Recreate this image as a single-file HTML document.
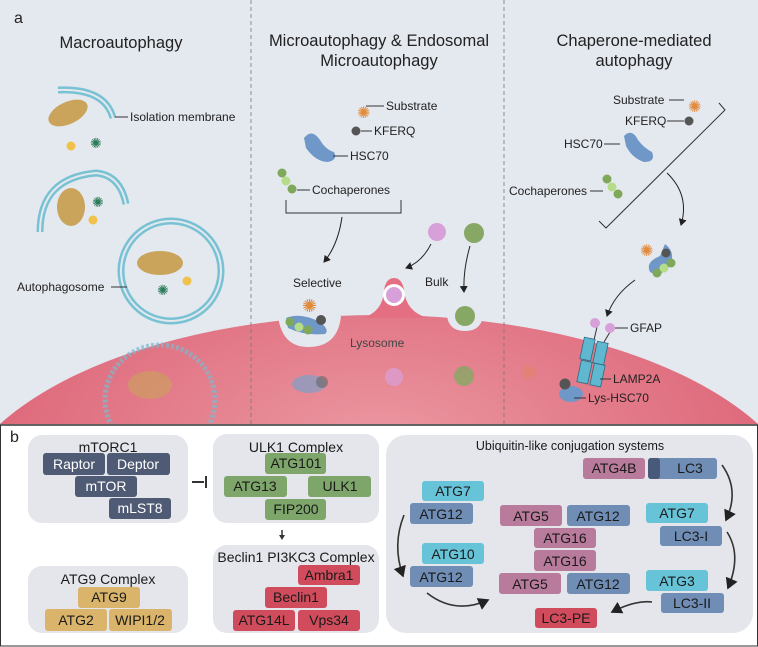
<!DOCTYPE html>
<html><head><meta charset="utf-8"><style>
html,body{margin:0;padding:0;background:#fff;overflow:hidden;width:758px;height:647px}
svg{display:block;position:absolute;left:0;top:0}
text{font-family:"Liberation Sans",sans-serif;fill:#222}
.lb{font-size:12px}
.bx{font-size:14px;text-anchor:middle;fill:#1a1a1a}
.wt{fill:#fff}
</style></head><body>
<svg width="758" height="647" viewBox="0 0 758 647" xmlns="http://www.w3.org/2000/svg">
<defs>
<radialGradient id="lys" cx="0.5" cy="0.3" r="0.7"><stop offset="0" stop-color="#eb97a1"/><stop offset="1" stop-color="#d75066"/></radialGradient>
<marker id="ah" markerWidth="8" markerHeight="8" refX="6" refY="4" orient="auto"><path d="M0,0 L7,4 L0,8 z" fill="#222"/></marker>
<clipPath id="ca"><rect x="0" y="0" width="758" height="424"/></clipPath>
</defs>
<rect x="0" y="0" width="758" height="425" fill="#e4e8ef"/>
<g clip-path="url(#ca)">
<ellipse cx="379" cy="520" rx="429" ry="205" fill="url(#lys)"/>
<circle cx="160" cy="400" r="55" fill="none" stroke="#7fb8cc" stroke-width="5" stroke-dasharray="3,2" opacity="0.7"/>
<ellipse cx="150" cy="385" rx="22" ry="14" fill="#c9a45a" opacity="0.6"/>
</g>
<line x1="251" y1="0" x2="251" y2="424" stroke="#777" stroke-dasharray="4,3" stroke-width="0.8"/>
<line x1="504" y1="0" x2="504" y2="424" stroke="#777" stroke-dasharray="4,3" stroke-width="0.8"/>
<text x="14" y="23" style="font-size:16px">a</text>
<g style="font-size:16.5px" text-anchor="middle">
<text x="121" y="48">Macroautophagy</text>
<text x="379" y="46">Microautophagy &amp;  Endosomal</text>
<text x="379" y="66">Microautophagy</text>
<text x="634" y="46">Chaperone-mediated</text>
<text x="634" y="66">autophagy</text>
</g>
<g fill="none" stroke="#78c2d4" stroke-width="7">
<path d="M58,90 Q105,88 113,118"/>
<path d="M40,232 Q40,178 96,173 Q120,175 126,204"/>
<circle cx="171" cy="271" r="50"/>
</g>
<g fill="none" stroke="#e4e8ef" stroke-width="2">
<path d="M58,90 Q105,88 113,118"/>
<path d="M40,232 Q40,178 96,173 Q120,175 126,204"/>
<circle cx="171" cy="271" r="50"/>
</g>
<ellipse cx="68" cy="113" rx="21" ry="11" fill="#c9a45a" transform="rotate(-25 68 113)"/>
<circle cx="71" cy="146" r="4.5" fill="#f0c24a"/>
<text x="90" y="148" style="font-size:14px;fill:#2e7d5a">✺</text>
<line x1="115" y1="117" x2="128" y2="117" stroke="#333"/>
<text class="lb" x="130" y="121">Isolation membrane</text>
<ellipse cx="71" cy="207" rx="14" ry="19" fill="#c9a45a"/>
<text x="92" y="207" style="font-size:14px;fill:#2e7d5a">✺</text>
<circle cx="93" cy="220" r="4.5" fill="#f0c24a"/>
<ellipse cx="160" cy="263" rx="23" ry="12" fill="#c9a45a"/>
<circle cx="187" cy="281" r="4.5" fill="#f0c24a"/>
<text x="157" y="295" style="font-size:14px;fill:#2e7d5a">✺</text>
<line x1="111" y1="287" x2="127" y2="287" stroke="#333"/>
<text class="lb" x="17" y="291">Autophagosome</text>
<text x="357" y="118" style="font-size:16px;fill:#e08a3a">✺</text>
<line x1="366" y1="106" x2="384" y2="106" stroke="#333"/>
<text class="lb" x="386" y="110">Substrate</text>
<circle cx="356" cy="131" r="4.5" fill="#555"/>
<line x1="361" y1="131" x2="372" y2="131" stroke="#333"/>
<text class="lb" x="374" y="135">KFERQ</text>
<path d="M304,138 Q312,128 320,140 Q326,150 334,152 Q338,160 328,162 Q316,162 306,148 z" fill="#6f98c8"/>
<line x1="333" y1="156" x2="348" y2="156" stroke="#333"/>
<text class="lb" x="350" y="160">HSC70</text>
<circle cx="282" cy="173" r="4.5" fill="#7fa85a"/><circle cx="286" cy="181" r="4.5" fill="#b5dc88"/><circle cx="292" cy="189" r="4.5" fill="#7fa85a"/>
<line x1="297" y1="190" x2="310" y2="190" stroke="#333"/>
<text class="lb" x="312" y="194">Cochaperones</text>
<path d="M286,200 V213 H401 V200" fill="none" stroke="#333"/>
<path d="M342,217 Q338,245 324,262" fill="none" stroke="#222" marker-end="url(#ah)"/>
<circle cx="437" cy="232" r="9" fill="#d8a0d8"/>
<circle cx="474" cy="233" r="10" fill="#86a864"/>
<path d="M431,244 Q422,262 406,268" fill="none" stroke="#222" marker-end="url(#ah)"/>
<path d="M470,246 Q463,270 464,292" fill="none" stroke="#222" marker-end="url(#ah)"/>
<text class="lb" x="293" y="287">Selective</text>
<text class="lb" x="425" y="286">Bulk</text>
<path d="M278,316 Q282,348 310,347 Q338,346 341,316 z" fill="#e4e8ef"/>
<path d="M362,318 Q383,312 384,290 Q386,278 394,278 Q402,278 404,290 Q406,312 428,318 z" fill="#e46f82"/>
<circle cx="394" cy="295" r="11" fill="#fff"/>
<circle cx="394" cy="295" r="8" fill="#d8a0d8"/>
<path d="M447,316 Q449,331 465,331 Q481,331 483,316 z" fill="#e4e8ef"/>
<circle cx="465" cy="316" r="10" fill="#86a864"/>
<path d="M286,318 Q300,312 320,322 Q330,330 325,334 Q305,336 288,328 z" fill="#6f98c8"/>
<circle cx="290" cy="322" r="4.5" fill="#7fa85a"/><circle cx="299" cy="327" r="4.5" fill="#b5dc88"/><circle cx="308" cy="330" r="4.5" fill="#7fa85a"/>
<circle cx="321" cy="320" r="5" fill="#555"/>
<text x="302" y="312" style="font-size:18px;fill:#e08a3a">✺</text>
<text class="lb" x="350" y="347" style="fill:#444">Lysosome</text>
<ellipse cx="309" cy="384" rx="17" ry="9" fill="#7fa0c8" opacity="0.7"/>
<circle cx="322" cy="382" r="6" fill="#666" opacity="0.6"/>
<circle cx="394" cy="377" r="9" fill="#d8a0d8" opacity="0.7"/>
<circle cx="464" cy="376" r="10" fill="#86a864" opacity="0.8"/>
<text class="lb" x="613" y="104">Substrate</text>
<line x1="669" y1="100" x2="684" y2="100" stroke="#333"/>
<text x="688" y="112" style="font-size:16px;fill:#e08a3a">✺</text>
<text class="lb" x="625" y="125">KFERQ</text>
<line x1="667" y1="121" x2="684" y2="121" stroke="#333"/>
<circle cx="689" cy="121" r="4.5" fill="#555"/>
<text class="lb" x="564" y="148">HSC70</text>
<line x1="604" y1="144" x2="620" y2="144" stroke="#333"/>
<path d="M624,136 Q632,128 638,140 Q644,148 652,152 Q656,162 644,162 Q632,158 626,146 z" fill="#6f98c8"/>
<text class="lb" x="509" y="195">Cochaperones</text>
<line x1="590" y1="191" x2="603" y2="191" stroke="#333"/>
<circle cx="607" cy="179" r="4.5" fill="#7fa85a"/><circle cx="612" cy="187" r="4.5" fill="#b5dc88"/><circle cx="618" cy="194" r="4.5" fill="#7fa85a"/>
<path d="M719,103 L725,110 L606,228 L599,221" fill="none" stroke="#333"/>
<path d="M667,173 Q690,195 681,225" fill="none" stroke="#222" marker-end="url(#ah)"/>
<path d="M665,244 Q676,252 670,266 Q660,278 650,272 Q645,262 660,256 z" fill="#6f98c8"/>
<text x="640" y="256" style="font-size:16px;fill:#e08a3a">✺</text>
<circle cx="666" cy="253" r="4.5" fill="#555"/>
<circle cx="657" cy="273" r="4.5" fill="#7fa85a"/><circle cx="664" cy="268" r="4.5" fill="#b5dc88"/><circle cx="671" cy="263" r="4.5" fill="#7fa85a"/>
<path d="M635,280 Q614,295 607,316" fill="none" stroke="#222" marker-end="url(#ah)"/>
<line x1="597" y1="327" x2="594" y2="340" stroke="#333"/><line x1="610" y1="332" x2="604" y2="342" stroke="#333"/>
<circle cx="595" cy="323" r="5" fill="#d8a0d8"/><circle cx="610" cy="328" r="5" fill="#d8a0d8"/>
<g fill="#5fb8d0" stroke="#2a6a80" stroke-width="0.8">
<rect x="582" y="338" width="11" height="22" transform="rotate(12 587 349)"/>
<rect x="595" y="342" width="11" height="22" transform="rotate(12 600 353)"/>
<rect x="579" y="361" width="11" height="22" transform="rotate(12 584 372)"/>
<rect x="592" y="364" width="11" height="22" transform="rotate(12 597 375)"/>
</g>
<line x1="615" y1="328" x2="628" y2="328" stroke="#333"/>
<text class="lb" x="630" y="332">GFAP</text>
<line x1="600" y1="379" x2="611" y2="379" stroke="#333"/>
<text class="lb" x="613" y="383">LAMP2A</text>
<ellipse cx="571" cy="394" rx="12" ry="8" fill="#6f98c8"/>
<circle cx="565" cy="384" r="5.5" fill="#555"/>
<line x1="574" y1="398" x2="586" y2="398" stroke="#333"/>
<text class="lb" x="588" y="402">Lys-HSC70</text>
<text x="520" y="380" style="font-size:22px;fill:#e08a3a;opacity:0.3">✺</text>
<rect x="0.5" y="425" width="757" height="221" fill="#fff" stroke="#333"/>
<line x1="0" y1="425" x2="758" y2="425" stroke="#333" stroke-width="1.5"/>
<text x="10" y="442" style="font-size:16px">b</text>
<g fill="#e4e6eb">
<rect x="28" y="435" width="160" height="88" rx="14"/>
<rect x="213" y="434" width="166" height="89" rx="14"/>
<rect x="213" y="545" width="166" height="88" rx="14"/>
<rect x="28" y="566" width="160" height="67" rx="14"/>
<rect x="386" y="435" width="367" height="198" rx="20"/>
</g>
<text x="108" y="452" class="bx">mTORC1</text>
<text x="296" y="452" class="bx">ULK1 Complex</text>
<text x="296" y="562" class="bx">Beclin1 PI3KC3 Complex</text>
<text x="108" y="584" class="bx">ATG9 Complex</text>
<text x="570" y="450" class="bx" style="font-size:12.5px">Ubiquitin-like conjugation systems</text>
<g fill="#4f5a74"><rect x="43" y="453" width="62" height="22" rx="3"/><rect x="107" y="453" width="63" height="22" rx="3"/><rect x="75" y="476" width="62" height="21" rx="3"/><rect x="109" y="498" width="62" height="21" rx="3"/></g>
<g fill="#7ea66a"><rect x="265" y="453" width="61" height="21" rx="3"/><rect x="224" y="476" width="63" height="21" rx="3"/><rect x="308" y="476" width="63" height="21" rx="3"/><rect x="265" y="499" width="61" height="21" rx="3"/></g>
<g fill="#d04c5c"><rect x="298" y="565" width="62" height="20" rx="3"/><rect x="265" y="587" width="62" height="21" rx="3"/><rect x="233" y="610" width="62" height="21" rx="3"/><rect x="298" y="610" width="62" height="21" rx="3"/></g>
<g fill="#d9b46a"><rect x="78" y="587" width="62" height="21" rx="3"/><rect x="45" y="609" width="62" height="22" rx="3"/><rect x="109" y="609" width="63" height="22" rx="3"/></g>
<g fill="#6f8db5"><rect x="648" y="458" width="69" height="21" rx="3"/><rect x="410" y="503" width="63" height="21" rx="3"/><rect x="567" y="505" width="63" height="21" rx="3"/><rect x="410" y="566" width="63" height="21" rx="3"/><rect x="567" y="573" width="63" height="21" rx="3"/><rect x="660" y="526" width="62" height="20" rx="3"/><rect x="661" y="593" width="63" height="20" rx="3"/></g>
<rect x="648" y="458" width="12" height="21" rx="3" fill="#48597a"/>
<g fill="#67c4d8"><rect x="422" y="481" width="62" height="20" rx="3"/><rect x="422" y="543" width="62" height="21" rx="3"/><rect x="646" y="503" width="62" height="20" rx="3"/><rect x="646" y="570" width="62" height="21" rx="3"/></g>
<g fill="#b87b9b"><rect x="583" y="458" width="62" height="21" rx="3"/><rect x="500" y="505" width="62" height="21" rx="3"/><rect x="534" y="528" width="62" height="20" rx="3"/><rect x="534" y="550" width="62" height="21" rx="3"/><rect x="499" y="573" width="62" height="21" rx="3"/></g>
<rect x="535" y="608" width="62" height="20" rx="3" fill="#d04c5c"/>
<text x="74" y="469" class="bx wt">Raptor</text><text x="138" y="469" class="bx wt">Deptor</text><text x="106" y="491" class="bx wt">mTOR</text><text x="140" y="513" class="bx wt">mLST8</text>
<text x="296" y="468" class="bx">ATG101</text><text x="255" y="491" class="bx">ATG13</text><text x="340" y="491" class="bx">ULK1</text><text x="296" y="514" class="bx">FIP200</text>
<text x="329" y="580" class="bx">Ambra1</text><text x="296" y="602" class="bx">Beclin1</text><text x="264" y="625" class="bx">ATG14L</text><text x="329" y="625" class="bx">Vps34</text>
<text x="109" y="602" class="bx">ATG9</text><text x="76" y="625" class="bx">ATG2</text><text x="140" y="625" class="bx">WIPI1/2</text>
<text x="614" y="473" class="bx">ATG4B</text><text x="690" y="473" class="bx">LC3</text>
<text x="453" y="496" class="bx">ATG7</text><text x="441" y="519" class="bx">ATG12</text>
<text x="531" y="521" class="bx">ATG5</text><text x="598" y="521" class="bx">ATG12</text>
<text x="565" y="543" class="bx">ATG16</text><text x="565" y="566" class="bx">ATG16</text>
<text x="530" y="589" class="bx">ATG5</text><text x="598" y="589" class="bx">ATG12</text>
<text x="453" y="559" class="bx">ATG10</text><text x="441" y="582" class="bx">ATG12</text>
<text x="566" y="623" class="bx">LC3-PE</text>
<text x="677" y="518" class="bx">ATG7</text><text x="691" y="541" class="bx">LC3-I</text>
<text x="677" y="586" class="bx">ATG3</text><text x="692" y="608" class="bx">LC3-II</text>
<line x1="192" y1="482" x2="204" y2="482" stroke="#333" stroke-width="2"/><line x1="206" y1="476" x2="206" y2="488" stroke="#333" stroke-width="2"/>
<line x1="282" y1="530" x2="282" y2="535" stroke="#333" stroke-width="1.5"/>
<path d="M279,535 L285,535 L282,540 z" fill="#333"/>
<g fill="none" stroke="#333" stroke-width="1.6">
<path d="M404,515 Q392,545 403,576" marker-end="url(#ah)"/>
<path d="M427,593 Q455,615 488,600" marker-end="url(#ah)"/>
<path d="M722,465 Q740,490 726,520" marker-end="url(#ah)"/>
<path d="M727,532 Q742,555 728,588" marker-end="url(#ah)"/>
<path d="M652,602 Q635,600 612,612" marker-end="url(#ah)"/>
</g>
</svg>
</body></html>
